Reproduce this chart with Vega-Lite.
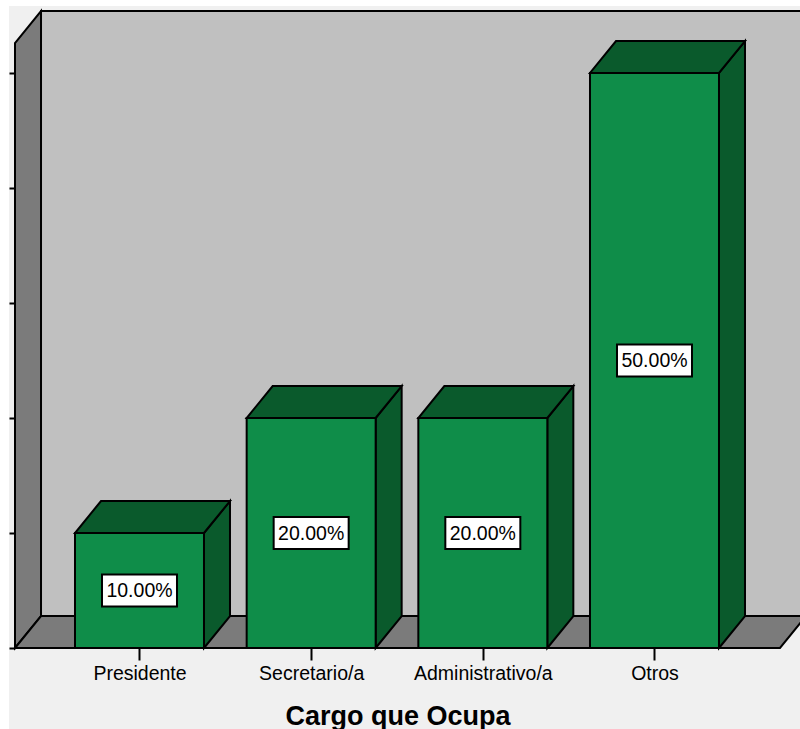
{
  "$schema": "https://vega.github.io/schema/vega-lite/v6.json",
  "width": 785,
  "height": 637,
  "padding": {"left": 15, "top": 11, "right": 0, "bottom": 81},
  "autosize": {"type": "none"},
  "background": "#ffffff",
  "config": {"view": {"stroke": null}, "font": "Liberation Sans"},
  "datasets": {
    "cargos": [
      {"cargo": "Presidente", "orden": 1, "pct": 10},
      {"cargo": "Secretario/a", "orden": 2, "pct": 20},
      {"cargo": "Administrativo/a", "orden": 3, "pct": 20},
      {"cargo": "Otros", "orden": 4, "pct": 50}
    ],
    "marco": [{"nombre": "camara"}]
  },
  "layer": [
    {
      "data": {"name": "marco"},
      "mark": {"type": "rect", "fill": "#f0f0f0", "clip": false},
      "encoding": {
        "x": {
          "datum": 0.2399,
          "type": "quantitative",
          "scale": {"domain": [0.2748, 4.8476], "nice": false, "zero": false},
          "axis": {
            "values": [1, 2, 3, 4],
            "labelExpr": "['Presidente', 'Secretario/a', 'Administrativo/a', 'Otros'][datum.value - 1]",
            "title": "Cargo que Ocupa",
            "titleFont": "Liberation Sans",
            "titleFontSize": 27,
            "titleFontWeight": "bold",
            "titleColor": "#000000",
            "titleX": 382.5,
            "titleY": 76,
            "titleAlign": "center",
            "titleBaseline": "alphabetic",
            "labelFont": "Liberation Sans",
            "labelFontSize": 19.5,
            "labelColor": "#000000",
            "labelPadding": 4,
            "labelFlush": false,
            "labelOverlap": false,
            "tickSize": 12,
            "tickWidth": 2,
            "tickColor": "#000000",
            "domain": false,
            "grid": false,
            "zindex": 1
          }
        },
        "x2": {"datum": 4.8476},
        "y": {
          "datum": -7.05,
          "type": "quantitative",
          "scale": {"domain": [0, 55.39], "nice": false, "zero": false},
          "axis": {
            "values": [0, 10, 20, 30, 40, 50],
            "labels": false,
            "title": null,
            "tickSize": 6,
            "tickWidth": 2,
            "tickColor": "#000000",
            "domain": false,
            "grid": false,
            "zindex": 1
          }
        },
        "y2": {"datum": 55.83}
      }
    },
    {
      "data": {"name": "marco"},
      "mark": {"type": "rect", "fill": "#c0c0c0", "stroke": "#000000", "strokeWidth": 2},
      "encoding": {
        "x": {"datum": 0.4263, "type": "quantitative"},
        "x2": {"datum": 4.95},
        "y": {"datum": 2.78, "type": "quantitative"},
        "y2": {"datum": 55.39}
      }
    },
    {
      "data": {"name": "marco"},
      "transform": [
        {"calculate": "[0.2748, 0.4263]", "as": "px"},
        {"calculate": "[0, 2.78]", "as": "py"},
        {"calculate": "[52.6, 55.39]", "as": "py2"},
        {"flatten": ["px", "py", "py2"]}
      ],
      "mark": {"type": "area", "fill": "#7b7b7b", "stroke": "#000000", "strokeWidth": 2, "opacity": 1},
      "encoding": {
        "x": {"field": "px", "type": "quantitative"},
        "y": {"field": "py", "type": "quantitative"},
        "y2": {"field": "py2"}
      }
    },
    {
      "data": {"name": "marco"},
      "transform": [
        {"calculate": "[0.2748, 0.4263, 4.731, 4.8825]", "as": "px"},
        {"calculate": "[0, 0, 0, 2.78]", "as": "py"},
        {"calculate": "[0, 2.78, 2.78, 2.78]", "as": "py2"},
        {"flatten": ["px", "py", "py2"]}
      ],
      "mark": {"type": "area", "fill": "#7b7b7b", "stroke": "#000000", "strokeWidth": 2, "opacity": 1},
      "encoding": {
        "x": {"field": "px", "type": "quantitative"},
        "y": {"field": "py", "type": "quantitative"},
        "y2": {"field": "py2"}
      }
    },
    {
      "data": {"name": "cargos"},
      "transform": [
        {"calculate": "datum.orden + 0.3757", "as": "der"},
        {"calculate": "[datum.der, datum.der + 0.1515]", "as": "px"},
        {"calculate": "[0, 2.78]", "as": "py"},
        {"calculate": "[datum.pct, datum.pct + 2.78]", "as": "py2"},
        {"flatten": ["px", "py", "py2"]}
      ],
      "mark": {"type": "area", "fill": "#0a5a2c", "stroke": "#000000", "strokeWidth": 2, "opacity": 1},
      "encoding": {
        "x": {"field": "px", "type": "quantitative"},
        "y": {"field": "py", "type": "quantitative"},
        "y2": {"field": "py2"},
        "detail": {"field": "cargo"}
      }
    },
    {
      "data": {"name": "cargos"},
      "transform": [
        {"calculate": "datum.orden - 0.3757", "as": "izq"},
        {"calculate": "datum.orden + 0.3757", "as": "der"},
        {"calculate": "[datum.izq, datum.izq + 0.1515, datum.der, datum.der + 0.1515]", "as": "px"},
        {"calculate": "[datum.pct, datum.pct, datum.pct, datum.pct + 2.78]", "as": "py"},
        {"calculate": "[datum.pct, datum.pct + 2.78, datum.pct + 2.78, datum.pct + 2.78]", "as": "py2"},
        {"flatten": ["px", "py", "py2"]}
      ],
      "mark": {"type": "area", "fill": "#0a5a2c", "stroke": "#000000", "strokeWidth": 2, "opacity": 1},
      "encoding": {
        "x": {"field": "px", "type": "quantitative"},
        "y": {"field": "py", "type": "quantitative"},
        "y2": {"field": "py2"},
        "detail": {"field": "cargo"}
      }
    },
    {
      "data": {"name": "cargos"},
      "transform": [
        {"calculate": "datum.orden - 0.3757", "as": "izq"},
        {"calculate": "datum.orden + 0.3757", "as": "der"}
      ],
      "mark": {"type": "rect", "fill": "#0f8d49", "stroke": "#000000", "strokeWidth": 2},
      "encoding": {
        "x": {"field": "izq", "type": "quantitative"},
        "x2": {"field": "der"},
        "y": {"field": "pct", "type": "quantitative"},
        "y2": {"datum": 0}
      }
    },
    {
      "data": {"name": "cargos"},
      "transform": [{"calculate": "datum.pct / 2", "as": "medio"}],
      "mark": {"type": "rect", "fill": "#ffffff", "stroke": "#000000", "strokeWidth": 2, "width": 75, "height": 32},
      "encoding": {
        "x": {"field": "orden", "type": "quantitative"},
        "y": {"field": "medio", "type": "quantitative"}
      }
    },
    {
      "data": {"name": "cargos"},
      "transform": [
        {"calculate": "datum.pct / 2", "as": "medio"},
        {"calculate": "format(datum.pct, '.2f') + '%'", "as": "etiqueta"}
      ],
      "mark": {"type": "text", "font": "Liberation Sans", "fontSize": 19.5, "color": "#000000", "align": "center", "baseline": "middle", "dy": 1},
      "encoding": {
        "x": {"field": "orden", "type": "quantitative"},
        "y": {"field": "medio", "type": "quantitative"},
        "text": {"field": "etiqueta"}
      }
    }
  ]
}
